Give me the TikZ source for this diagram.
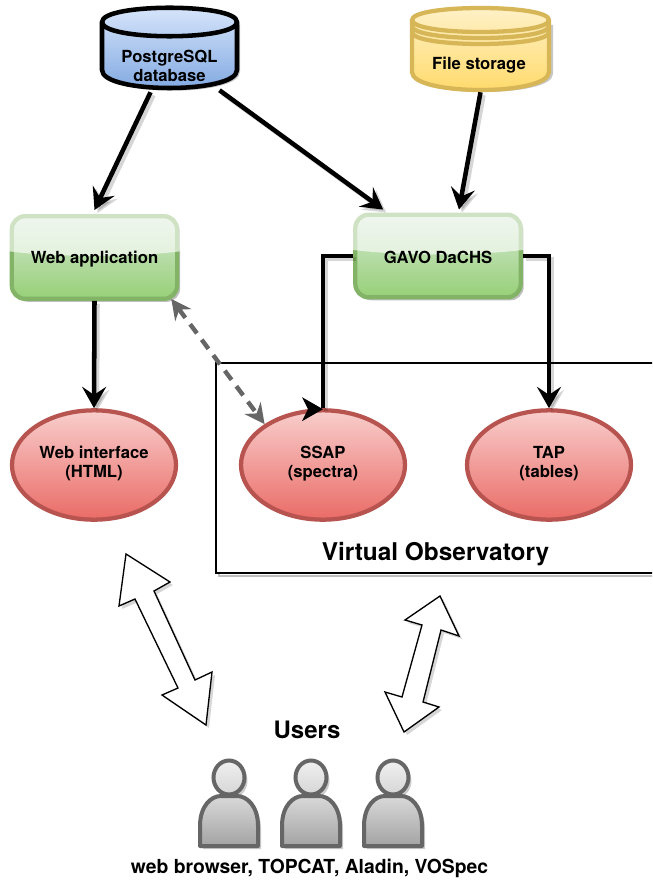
\documentclass[tikz,border=0pt]{standalone}
\usepackage{fontspec}
\setmainfont{TeX Gyre Heros}
\usetikzlibrary{arrows.meta,shapes.geometric,shadows,calc}
\definecolor{greenS}{HTML}{82B366}
\definecolor{greenT}{HTML}{D5E8D4}
\definecolor{greenB}{HTML}{97D077}
\definecolor{redS}{HTML}{B85450}
\definecolor{redT}{HTML}{F8CECC}
\definecolor{redB}{HTML}{EA6B66}
\definecolor{blueT}{HTML}{DAE8FC}
\definecolor{blueB}{HTML}{7EA6E0}
\definecolor{yelS}{HTML}{D6B656}
\definecolor{yelT}{HTML}{FFF2CC}
\definecolor{yelB}{HTML}{FFD966}
\definecolor{darkG}{HTML}{666666}
\tikzset{
  x=0.75pt,y=-0.75pt,
  lbl/.style={font=\bfseries\fontsize{12.5}{14.2}\selectfont,align=center,inner sep=0pt,text=black},
  glossbox/.style={rectangle,rounded corners=10pt,draw=greenS,line width=3.2pt,top color=greenT,bottom color=greenB,
     minimum width=124pt,minimum height=62pt,inner sep=0pt,
     drop shadow={shadow xshift=2.25pt,shadow yshift=-2.25pt,fill=black,opacity=.25}},
  oval/.style={ellipse,draw=redS,line width=3.2pt,top color=redT,bottom color=redB,
     minimum width=123pt,minimum height=82pt,inner sep=0pt},
  ghost/.style={rectangle,inner sep=0pt,draw=none,fill=none},
  conn/.style={line width=3.4pt,draw=black,-{Stealth[length=16pt,width=18pt,inset=6pt]}},
  dash conn/.style={line width=3.3pt,draw=darkG,dash pattern=on 8.5pt off 6pt,
     {Stealth[length=15pt,width=15pt,inset=5pt]}-{Stealth[length=15pt,width=15pt,inset=5pt]}},
  fat/.style={draw=black,line width=1pt,fill=white,line join=miter},
  fatshadow/.style={fill=black,fill opacity=.16,draw=none},
  person/.style={draw=darkG,line width=3pt},
  shift shadow/.style={transform canvas={shift={(2.25pt,-2.25pt)}},opacity=.16},
}
\newcommand{\glosslayer}[1]{%
  \begin{scope}
    \path[clip,rounded corners=10pt] ($(#1.north west)+(-2pt,2pt)$) rectangle ($(#1.south east)+(2pt,-2pt)$);
    \fill[white,opacity=.62] ($(#1.north west)+(-3pt,3pt)$) -- ($(#1.north east)+(3pt,3pt)$) -- ($(#1.east)+(3pt,5pt)$)
      .. controls ($(#1.east)+(-30pt,0pt)$) and ($(#1.west)+(30pt,0pt)$) .. ($(#1.west)+(-3pt,5pt)$) -- cycle;
  \end{scope}}
\newcommand{\personshape}[1]{%
  \fill[black,opacity=.2] (#1-29+3,846+3) -- (#1-29+3,826+3) .. controls (#1-29+3,806+3) and (#1-18+3,796+3) .. (#1-8+3,796+3) -- (#1+8+3,796+3)
     .. controls (#1+18+3,796+3) and (#1+29+3,806+3) .. (#1+29+3,826+3) -- (#1+29+3,846+3) -- cycle;
  \fill[black,opacity=.2] (#1+3,778+3) ellipse (15.5 and 17);
  \path[person,top color=black!6,bottom color=black!16] (#1,777.5) ellipse (15.5 and 17);
  \path[person,top color=black!15,bottom color=black!36,line join=round] (#1-29,846) -- (#1-29,826) .. controls (#1-29,806) and (#1-18,796) .. (#1-8,796) -- (#1+8,796)
     .. controls (#1+18,796) and (#1+29,806) .. (#1+29,826) -- (#1+29,846) -- cycle;
}
\begin{document}
\begin{tikzpicture}
\useasboundingbox (0,0) rectangle (652,880);
\clip (0,0) rectangle (652,880);
\fill[white] (0,0) rectangle (652,880);

% Virtual Observatory frame
\draw[black!25,line width=1pt] (219,366) rectangle (670,576);
\draw[black,line width=.9pt,fill=white] (216,363) rectangle (670,573);

% PostgreSQL cylinder
\node[ghost,minimum width=105pt,minimum height=61.5pt] (pg) at (169.5,49) {};
\fill[black,opacity=.22] (105,25) -- (240,25) -- (240,72) .. controls (240,97) and (105,97) .. (105,72) -- cycle;
\shade[top color=blueT,bottom color=blueB] (102,22) .. controls (102,3) and (237,3) .. (237,22) -- (237,70) .. controls (237,94) and (102,94) .. (102,70) -- cycle;
\draw[black,line width=3.4pt,line join=round] (102,22) .. controls (102,3) and (237,3) .. (237,22) -- (237,70) .. controls (237,94) and (102,94) .. (102,70) -- cycle;
\draw[black,line width=3.4pt] (102,22) .. controls (102,41) and (237,41) .. (237,22);

% File storage cylinder
\node[ghost,minimum width=105pt,minimum height=63pt] (fs) at (480.5,50) {};
\fill[black,opacity=.22] (415,25) -- (553,25) -- (553,74) .. controls (553,98) and (415,98) .. (415,74) -- cycle;
\shade[top color=yelT,bottom color=yelB] (412,20) .. controls (412,4) and (549,4) .. (549,20) -- (549,72) .. controls (549,96) and (412,96) .. (412,72) -- cycle;
\draw[yelS,line width=3.2pt,line join=round] (412,20) .. controls (412,4) and (549,4) .. (549,20) -- (549,72) .. controls (549,96) and (412,96) .. (412,72) -- cycle;
\draw[yelS,line width=3.2pt] (412,20) .. controls (412,36) and (549,36) .. (549,20);
\draw[yelS,line width=3.2pt] (412,26) .. controls (412,42) and (549,42) .. (549,26);
\draw[yelS,line width=3.2pt] (412,32) .. controls (412,48) and (549,48) .. (549,32);

% Boxes
\node[glossbox] (webapp) at (94.5,257.5) {};
\glosslayer{webapp}
\node[glossbox] (dachs) at (438,256) {};
\glosslayer{dachs}

% Ellipses
\node[oval] (webif) at (94,465) {};
\node[oval] (ssap) at (323,465) {};
\node[oval] (tap) at (549,465) {};

% Connector anchors
\coordinate (pgA) at ($(pg.south)+(-19,2)$);
\coordinate (pgB) at ($(pg.south)+(50,0)$);
\coordinate (webT) at ($(webapp.north)+(0,-4)$);
\coordinate (dachsA) at ($(dachs.north west)+(30,-3)$);
\coordinate (dachsB) at ($(dachs.north)+(21,-3)$);
\coordinate (fsA) at ($(fs.south)+(0,0)$);
\coordinate (webGloss) at ($(webapp.south east)+(-8,-2)$);

% Connector shadows
\begin{scope}[shift shadow]
\draw[conn] (pgA) -- (webT);
\draw[conn] (pgB) -- (dachsA);
\draw[conn] (fsA) -- (dachsB);
\draw[conn] (webapp.south) -- (webif.north);
\draw[conn] (dachs.east) -| (tap.north);
\draw[line width=3.4pt] (dachs.west) -| (ssap.north);
\end{scope}

% Connectors
\draw[conn] (pgA) -- (webT);
\draw[conn] (pgB) -- (dachsA);
\draw[conn] (fsA) -- (dachsB);
\draw[conn] (webapp.south) -- (webif.north);
\draw[conn] (dachs.east) -| (tap.north);
\draw[line width=3.4pt] (dachs.west) -| (ssap.north);
\fill[black] ($(ssap.north)+(0,1)$) -- ++(-21,-12) -- ++(6,12) -- ++(-6,12) -- cycle;
\draw[dash conn] (webGloss) -- (ssap.145);

% Labels
\node[lbl,yshift=-13pt] at (pg.center) {PostgreSQL\\database};
\node[lbl] at (479,65) {File storage};
\node[lbl,yshift=-1pt] at (webapp.center) {Web application};
\node[lbl,yshift=-1pt] at (dachs.center) {GAVO DaCHS};
\node[lbl,yshift=1pt] at (webif.center) {Web interface\\(HTML)};
\node[lbl,yshift=1pt] at (ssap.center) {SSAP\\(spectra)};
\node[lbl,yshift=1pt] at (tap.center) {TAP\\(tables)};
\node[font=\bfseries\fontsize{18.3}{22}\selectfont,inner sep=0pt] (vo) at (435.5,554) {Virtual Observatory};
\node[font=\bfseries\fontsize{18}{22}\selectfont,inner sep=0pt] (users) at (307,730) {Users};
\node[font=\bfseries\fontsize{14.5}{17}\selectfont,inner sep=0pt] (tools) at (309.5,868) {web browser, TOPCAT, Aladin, VOSpec};

% Big double arrows
\fill[fatshadow] (129,557) -- (173,585) -- (157,594) -- (198,683) -- (215,675) -- (209,728) -- (165,698) -- (181,691) -- (138,602) -- (122,609) -- cycle;
\draw[fat] (126,554) -- (170,582) -- (154,591) -- (195,680) -- (212,672) -- (206,725) -- (162,695) -- (178,688) -- (135,599) -- (119,606) -- cycle;
\fill[fatshadow] (443,599) -- (462,639) -- (444,633) -- (426,705) -- (442,710) -- (407,735) -- (388,695) -- (405,700) -- (425,628) -- (408,623) -- cycle;
\draw[fat] (440,596) -- (459,636) -- (441,630) -- (423,702) -- (439,707) -- (404,732) -- (385,692) -- (402,697) -- (422,625) -- (405,620) -- cycle;

% People
\personshape{229}
\personshape{311}
\personshape{393}
\end{tikzpicture}
\end{document}
